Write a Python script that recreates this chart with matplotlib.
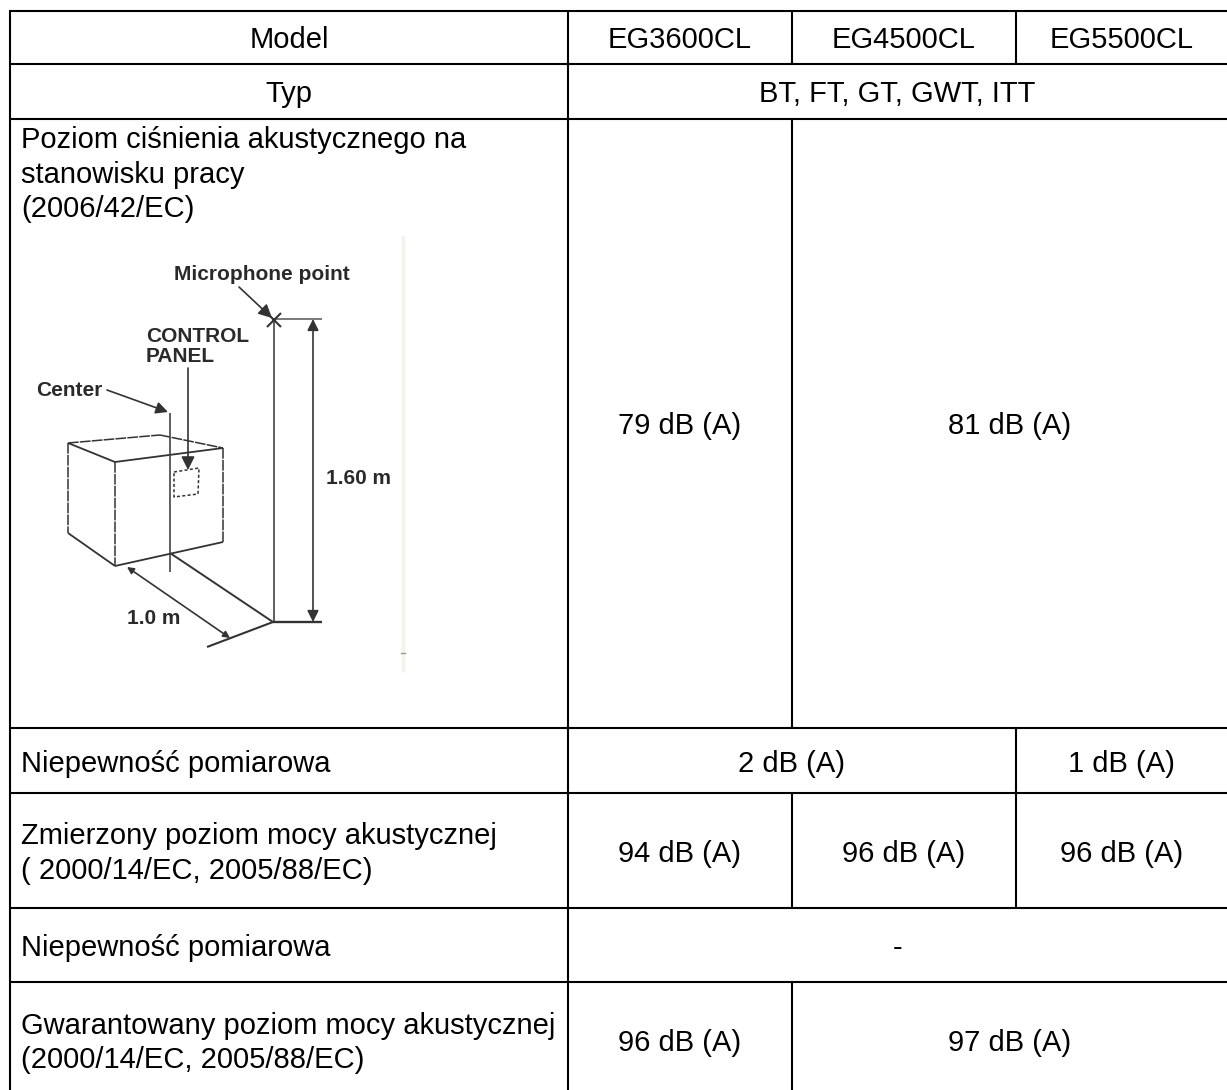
import matplotlib
matplotlib.use("Agg")
import matplotlib.pyplot as plt

plt.rcParams["font.family"] = ["Liberation Sans", "DejaVu Sans"]

W, H = 1227, 1090
COLS = [10, 568, 792, 1016, 1227]
ROWS = [11, 64, 119, 728, 793, 908, 982, 1098]

models = ["EG3600CL", "EG4500CL", "EG5500CL"]
types = "BT, FT, GT, GWT, ITT"
row_labels = [
    "Model",
    "Typ",
    "Poziom ciśnienia akustycznego na\nstanowisku pracy\n(2006/42/EC)",
    "Niepewność pomiarowa",
    "Zmierzony poziom mocy akustycznej\n( 2000/14/EC, 2005/88/EC)",
    "Niepewność pomiarowa",
    "Gwarantowany poziom mocy akustycznej\n(2000/14/EC, 2005/88/EC)",
]
# row index, first column, last column, text
value_cells = [
    (0, 1, 1, models[0]), (0, 2, 2, models[1]), (0, 3, 3, models[2]),
    (1, 1, 3, types),
    (2, 1, 1, "79 dB (A)"), (2, 2, 3, "81 dB (A)"),
    (3, 1, 2, "2 dB (A)"), (3, 3, 3, "1 dB (A)"),
    (4, 1, 1, "94 dB (A)"), (4, 2, 2, "96 dB (A)"), (4, 3, 3, "96 dB (A)"),
    (5, 1, 3, "-"),
    (6, 1, 1, "96 dB (A)"), (6, 2, 3, "97 dB (A)"),
]

FS = 21
LW = 1.5

fig = plt.figure(figsize=(W / 100, H / 100), dpi=100)
ax = fig.add_axes([0, 0, 1, 1])
ax.set_xlim(0, W)
ax.set_ylim(H, 0)
ax.axis("off")


def line(x0, y0, x1, y1, color="black", lw=LW, **kw):
    ax.plot([x0, x1], [y0, y1], color=color, lw=lw, solid_capstyle="butt", **kw)


# table grid, the bottom border is cut off by the page
for y in ROWS[:-1]:
    line(COLS[0] - 1, y, W, y)
line(COLS[0], ROWS[0], COLS[0], H)
line(COLS[1], ROWS[0], COLS[1], H)
line(COLS[2], ROWS[0], COLS[2], ROWS[1])
line(COLS[3], ROWS[0], COLS[3], ROWS[1])
line(COLS[2], ROWS[2], COLS[2], ROWS[3])
line(COLS[3], ROWS[3], COLS[3], ROWS[4])
line(COLS[2], ROWS[4], COLS[2], ROWS[5])
line(COLS[3], ROWS[4], COLS[3], ROWS[5])
line(COLS[2], ROWS[6], COLS[2], H)

# row labels
for i, lab in enumerate(row_labels):
    if i < 2:
        ax.text((COLS[0] + COLS[1]) / 2, (ROWS[i] + ROWS[i + 1]) / 2 + 3, lab, fontsize=FS,
                ha="center", va="center")
    elif i == 2:
        ax.text(21, ROWS[2] + 7, lab, fontsize=FS, ha="left", va="top", linespacing=1.3)
    else:
        ax.text(21, (ROWS[i] + ROWS[i + 1]) / 2 + 3, lab, fontsize=FS, ha="left", va="center",
                linespacing=1.3)

# value cells
for r, c0, c1, txt in value_cells:
    ax.text((COLS[c0] + COLS[c1 + 1]) / 2, (ROWS[r] + ROWS[r + 1]) / 2 + 3, txt, fontsize=FS,
            ha="center", va="center")

# measuring sketch
DK = "#333333"
ax.plot([403, 403], [237, 670], color="#f1f3ec", lw=2.5)
ax.plot([401, 405], [653, 653], color="#999999", lw=1)

box_solid = [((68, 443), (115, 462)), ((115, 462), (223, 448)), ((68, 533), (115, 566)),
             ((115, 566), (223, 542))]
box_dash = [((68, 443), (160, 435)), ((160, 435), (223, 448)), ((68, 443), (68, 533)),
            ((115, 462), (115, 566)), ((223, 448), (223, 542))]
for a, b in box_solid:
    line(a[0], a[1], b[0], b[1], color=DK, lw=1.3)
for a, b in box_dash:
    ax.plot([a[0], b[0]], [a[1], b[1]], color=DK, lw=1.1, ls=(0, (7, 0.8)))
ax.plot([174, 199, 198, 174, 174], [472, 468, 494, 497, 472], color=DK, lw=1.1, ls=(0, (2, 1.5)))

line(170, 413, 170, 572, color="#444444", lw=1.2)
line(170, 553, 273, 622, color=DK, lw=1.4)
line(207, 647, 273, 622, color=DK, lw=1.5)
line(274, 320, 274, 622, color="#444444", lw=1.2)
line(274, 319, 322, 319, color="#555555", lw=1.1)
line(273, 622, 322, 622, color=DK, lw=1.7)
ax.plot([274], [320], marker="x", ms=10, mew=1.5, color=DK)

arrow = dict(color=DK, lw=1.2, shrinkA=0, shrinkB=0)
ax.annotate("", xy=(313, 319), xytext=(313, 622), arrowprops=dict(arrowstyle="<|-|>", mutation_scale=17, **arrow))
ax.annotate("", xy=(127, 567), xytext=(230, 638), arrowprops=dict(arrowstyle="<|-|>", mutation_scale=10, **arrow))
ax.annotate("", xy=(168, 412), xytext=(107, 390), arrowprops=dict(arrowstyle="-|>", mutation_scale=18, **arrow))
ax.annotate("", xy=(188, 470), xytext=(188, 368), arrowprops=dict(arrowstyle="-|>", mutation_scale=20, **arrow))
ax.annotate("", xy=(272, 318), xytext=(239, 287), arrowprops=dict(arrowstyle="-|>", mutation_scale=20, **arrow))

sk = dict(fontsize=15, fontweight="bold", color="#2a2a2a", va="center")
ax.text(262, 274, "Microphone point", ha="center", **sk)
ax.text(146, 336, "CONTROL", ha="left", **sk)
ax.text(146, 357, "PANEL", ha="left", **sk)
ax.text(36, 390, "Center", ha="left", **sk)
ax.text(326, 478, "1.60 m", ha="left", **sk)
ax.text(127, 619, "1.0 m", ha="left", **sk)

fig.savefig("out.png", dpi=100)
